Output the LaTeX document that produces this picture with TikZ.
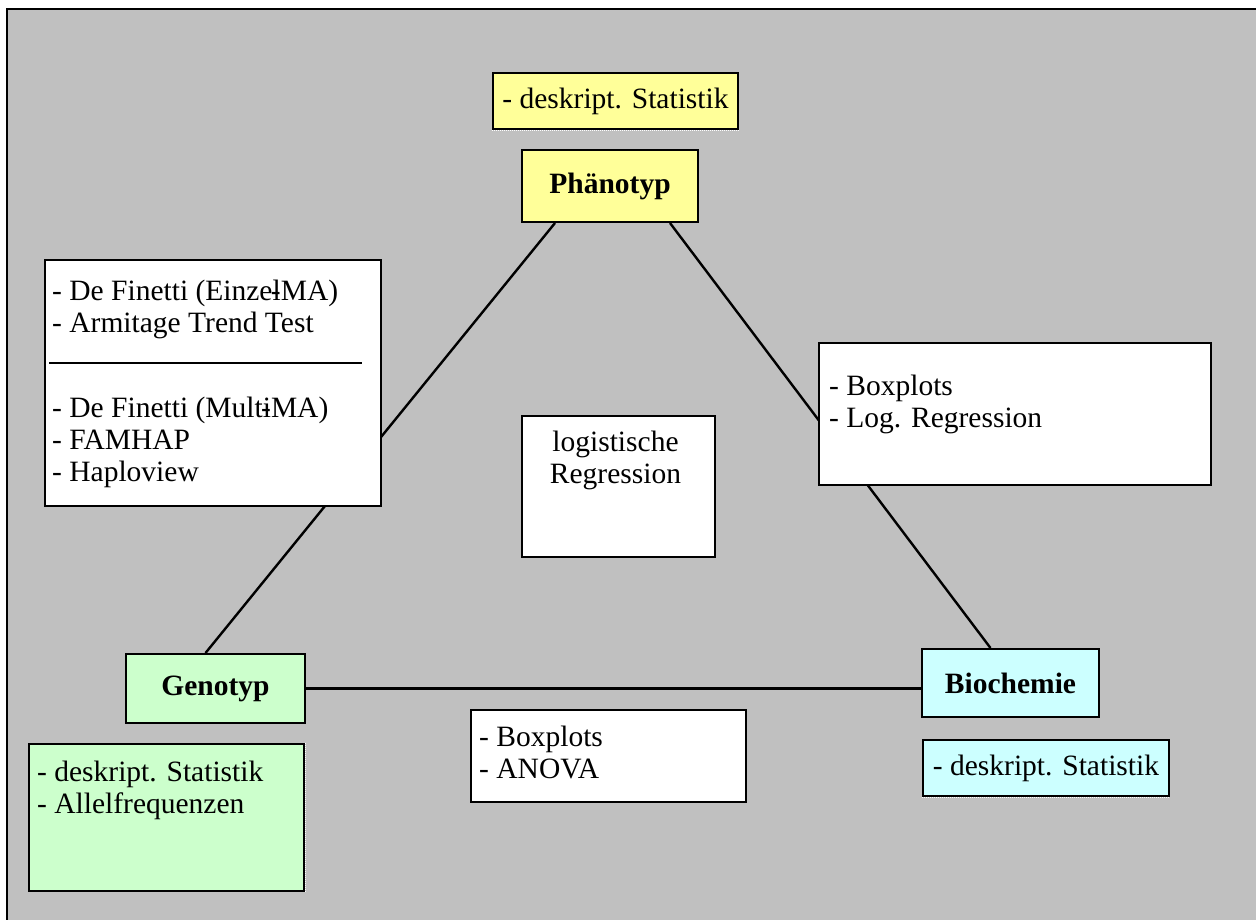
\documentclass[tikz,border=0pt]{standalone}
\usepackage{fontspec}
\setmainfont{Liberation Serif}
\usetikzlibrary{positioning, backgrounds}
\definecolor{bggray}{HTML}{C0C0C0}
\definecolor{phaenoyellow}{HTML}{FFFF99}
\definecolor{genogreen}{HTML}{CCFFCC}
\definecolor{biocyan}{HTML}{CCFFFF}
\newcommand{\mainsize}{\fontsize{29.5}{32}\selectfont}
\newcommand{\hy}{\llap{-}}
\tikzset{
	box/.style={draw, line width=2pt, inner sep=0pt, fill=white, font=\mainsize}
}
\tikzset{
	hub/.style={box, font=\mainsize\bfseries}
}
\tikzset{
	txt/.style={inner sep=0pt, anchor=north west, align=left, font=\mainsize},
	link/.style={line width=2.4pt},
	dotedge/.style={white, densely dotted, line width=1pt}
}

\begin{document}
\begin{tikzpicture}[x=1pt, y=-1pt]
      \useasboundingbox (0,0) rectangle (1256,919);
      % the three corners
      \node[hub, fill=phaenoyellow, minimum width=176, minimum height=72] (phaeno) at (610,186) {Phänotyp};
      \node[hub, fill=genogreen, minimum width=179, minimum height=69] (geno) at (215.5,688.5) {Genotyp};
      \node[hub, fill=biocyan, minimum width=177, minimum height=68] (bio) at (1010.5,683) {Biochemie};
      % descriptive boxes
      \node[box, fill=phaenoyellow, minimum width=245, minimum height=56] (pstat) at (615.5,101) {- deskript. Statistik};
      \node[box, fill=biocyan, minimum width=246, minimum height=56] (bstat) at (1046,768) {- deskript. Statistik};
      \node[box, fill=genogreen, minimum width=275, minimum height=147] (gstat) at (166.5,817.5) {};
      \node[txt] (gtxt) at ([shift={(9,18)}]gstat.north west) {- deskript. Statistik\\- Allelfrequenzen};
      \draw[dotedge] (pstat.south west) -- (pstat.south east);
      \draw[dotedge] (bstat.south west) -- (bstat.south east);
      \draw[dotedge] (gstat.north east) -- (gstat.south east);
      % methods on the edges
      \node[box, minimum width=336, minimum height=246] (lbox) at (213,383) {};
      \node[txt] (ltop) at ([shift={(8,21)}]lbox.north west) {- De Finetti (Einzel\hy MA)\\- Armitage Trend Test};
      \draw[line width=2pt] ([shift={(5,104)}]lbox.north west) -- ([shift={(318,104)}]lbox.north west);
      \node[txt] (lbot) at ([shift={(8,138)}]lbox.north west) {- De Finetti (Multi\hy MA)\\- FAMHAP\\- Haploview};
      \node[box, minimum width=392, minimum height=142] (rbox) at (1015,414) {};
      \node[txt] (rtxt) at ([shift={(11,33)}]rbox.north west) {- Boxplots\\- Log. Regression};
      \node[box, minimum width=275, minimum height=92] (abox) at (608.5,756) {};
      \node[txt] (atxt) at ([shift={(9,17)}]abox.north west) {- Boxplots\\- ANOVA};
      \node[box, minimum width=193, minimum height=141] (logreg) at (618.5,486.5) {};
      \node[txt, anchor=north, align=center] (logtxt) at ([shift={(-3,16)}]logreg.north) {logistische\\Regression};
      \begin{scope}[on background layer]
        \draw[fill=bggray, line width=2.5pt] (7,9) rectangle (1280,940);
        \draw[link] ([xshift=-55]phaeno.south) -- ([xshift=-10]geno.north);
        \draw[link] ([xshift=60]phaeno.south) -- ([xshift=-20]bio.north);
        \draw[link] (geno.east) -- (geno.east -| bio.west);
      \end{scope}
    \end{tikzpicture}
\end{document}
